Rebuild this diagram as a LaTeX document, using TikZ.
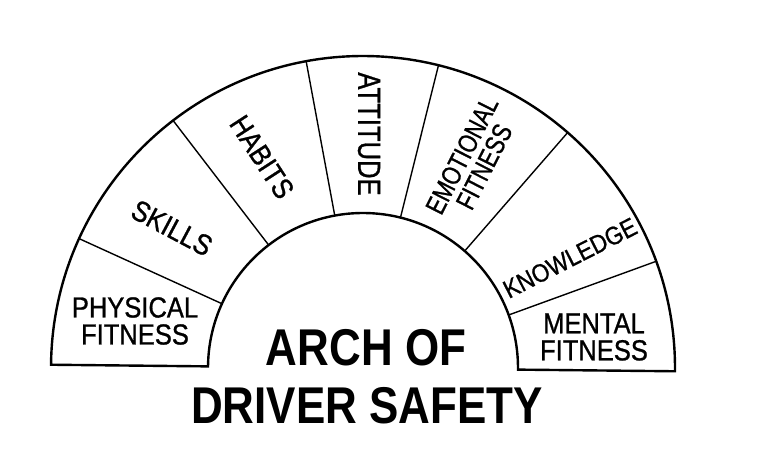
\documentclass[tikz,border=0pt]{standalone}
\usepackage{fontspec}
\setmainfont{Liberation Sans}
\newfontfamily\lblfont[FakeStretch=0.88,FakeBold=0.9]{Liberation Sans}
\newfontfamily\lblcfont[FakeStretch=0.8,FakeBold=0.9]{Liberation Sans}
\newfontfamily\ttlfont[FakeStretch=0.85]{Liberation Sans}
\tikzset{
  archline/.style={line width=2.4pt, line join=miter},
  divline/.style={line width=1.4pt},
  lbl/.style={inner sep=0pt, align=center, font=\lblfont\fontsize{29}{27}\selectfont},
  lblc/.style={inner sep=0pt, align=center, font=\lblcfont\fontsize{29}{25}\selectfont},
  ttl/.style={inner sep=0pt, font=\ttlfont\bfseries\fontsize{51.7}{58}\selectfont}
}
\begin{document}
\begin{tikzpicture}[x=1pt,y=1pt]
\useasboundingbox (0,0) rectangle (758,461);
\fill[white] (0,0) rectangle (758,461);
\begin{scope}[shift={(363,93)},rotate=-0.6]
  \coordinate (C) at (0,0);
  \draw[archline] (180:312) arc[start angle=180,end angle=0,radius=312]
     -- (0:155) arc[start angle=0,end angle=180,radius=155] -- cycle;
  \foreach \a in {20.6,49.6,76.6,101.1,128.1,156.1}
    \draw[divline] (\a:155) -- (\a:312);
\end{scope}
\node[lbl] (phys) at (135,140) {PHYSICAL\\FITNESS};
\node[lbl] (skills) at (172,233) [rotate=-28] {SKILLS};
\node[lbl] (habits) at (262,304) [rotate=-57] {HABITS};
\node[lblc, font=\lblcfont\fontsize{32}{30}\selectfont] (att) at (369,327) [rotate=-90] {ATTITUDE};
\node[lblc, font=\lblcfont\fontsize{27}{25}\selectfont] (emo) at (473,300) [rotate=63] {EMOTIONAL\\FITNESS};
\node[lbl, font=\lblfont\fontsize{25.5}{25}\selectfont] (know) at (570,203) [rotate=27] {KNOWLEDGE};
\node[lbl] (ment) at (594,124) {MENTAL\\FITNESS};
\node[ttl] (t1) at (366,113) {ARCH OF};
\node[ttl] (t2) at (367,55) {DRIVER SAFETY};
\end{tikzpicture}
\end{document}
